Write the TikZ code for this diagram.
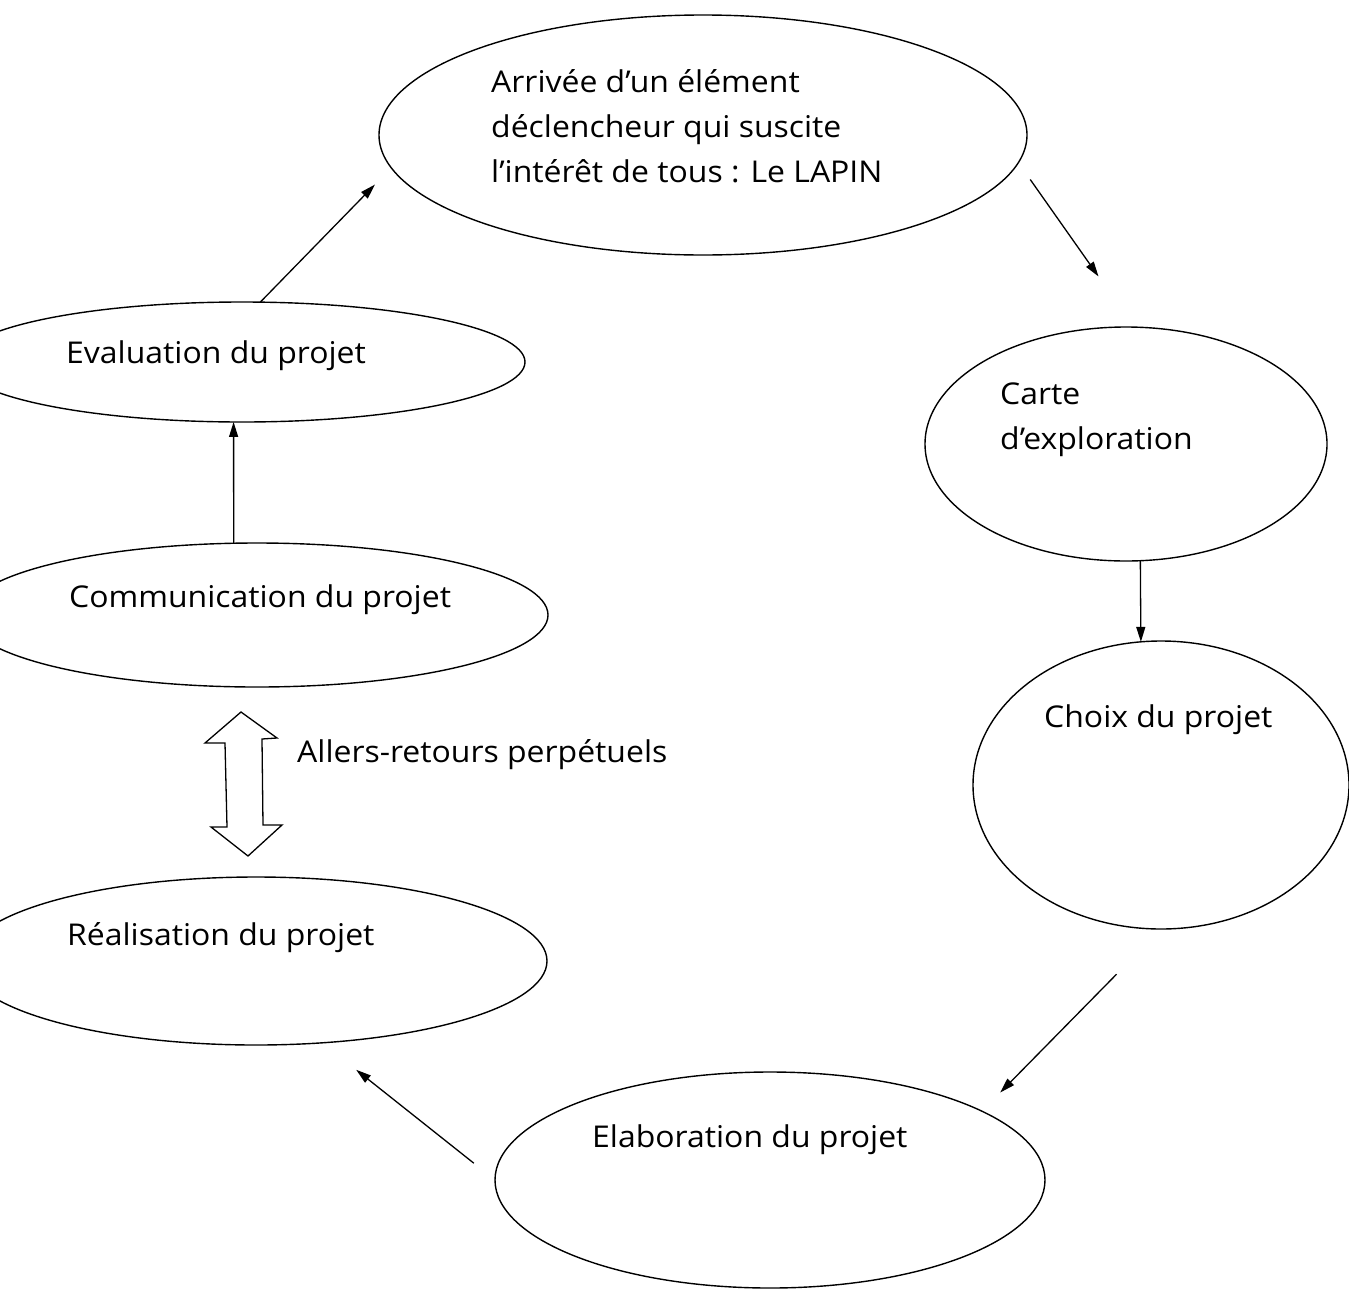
\documentclass[tikz,border=0pt]{standalone}
\usepackage{fontspec}
\setmainfont[FakeStretch=1.065]{Open Sans}
\usetikzlibrary{arrows.meta,shapes.geometric}
\begin{document}
\begin{tikzpicture}[x=1pt,y=-1pt,
  bubble/.style={draw=black, line width=1.4pt, ellipse, inner sep=0pt, outer sep=0pt},
  lbl/.style={anchor=base west, inner sep=0pt, font=\fontsize{30}{36}\selectfont},
  conn/.style={draw=black, line width=1.3pt, -{Triangle[length=15pt,width=9pt]}},
  blockarrow/.style={draw=black, line width=1.3pt, line join=miter},
]
\useasboundingbox (0,0) rectangle (1349,1288);
\clip (0,0) rectangle (1349,1288);
\fill[white] (0,0) rectangle (1349,1288);

% bubbles
\node[bubble, minimum width=648pt, minimum height=240pt] (top)   at (703,135) {};
\node[bubble, minimum width=402pt, minimum height=234pt] (carte) at (1126,444) {};
\node[bubble, minimum width=376pt, minimum height=288pt] (choix) at (1161,785) {};
\node[bubble, minimum width=550pt, minimum height=216pt] (elab)  at (770,1180) {};
\node[bubble, minimum width=582pt, minimum height=168pt] (real)  at (256,961) {};
\node[bubble, minimum width=582pt, minimum height=144pt] (comm)  at (257,615) {};
\node[bubble, minimum width=566pt, minimum height=120pt] (eval)  at (242,362) {};

% texts
\node[lbl] (tTopA) at (491,92)  {Arrivée d’un élément};
\node[lbl] (tTopB) at (491,137) {déclencheur qui suscite};
\node[lbl] (tTopC) at (491,182) {l’intérêt de tous : Le LAPIN};
\node[lbl] (tCarteA) at (1000,404) {Carte};
\node[lbl] (tCarteB) at (1000,449) {d’exploration};
\node[lbl] (tChoix) at (1044,727) {Choix du projet};
\node[lbl] (tElab) at (592,1147) {Elaboration du projet};
\node[lbl] (tReal) at (67,945) {Réalisation du projet};
\node[lbl] (tComm) at (69,607) {Communication du projet};
\node[lbl] (tEval) at (66,363) {Evaluation du projet};
\node[lbl] (tAllers) at (297,762) {Allers-retours perpétuels};

% connectors
\draw[conn] (eval.73.3) -- (top.186.57) [shorten >=23.5pt];
\draw[conn, shorten <=20.7pt, shorten >=61.9pt] (top.-5.69) -- (carte.86.96);
\draw[conn] (carte.-83.65) -- (choix.98.75);
\draw[conn, shorten <=63.4pt, shorten >=26.1pt] (choix.-90.2) -- (elab.18.26);
\draw[conn, shorten <=27pt, shorten >=43.4pt] (elab.180.4) -- (real.-51.5);
\draw[conn] (comm.108.5) -- (eval.-98.5);

% double block arrow
\draw[blockarrow] (241,712) -- (277,738) -- (262,739) -- (263,825) -- (282,825)
  -- (248,856) -- (211,827) -- (227,827) -- (225,743) -- (205,743) -- cycle;
\end{tikzpicture}
\end{document}
